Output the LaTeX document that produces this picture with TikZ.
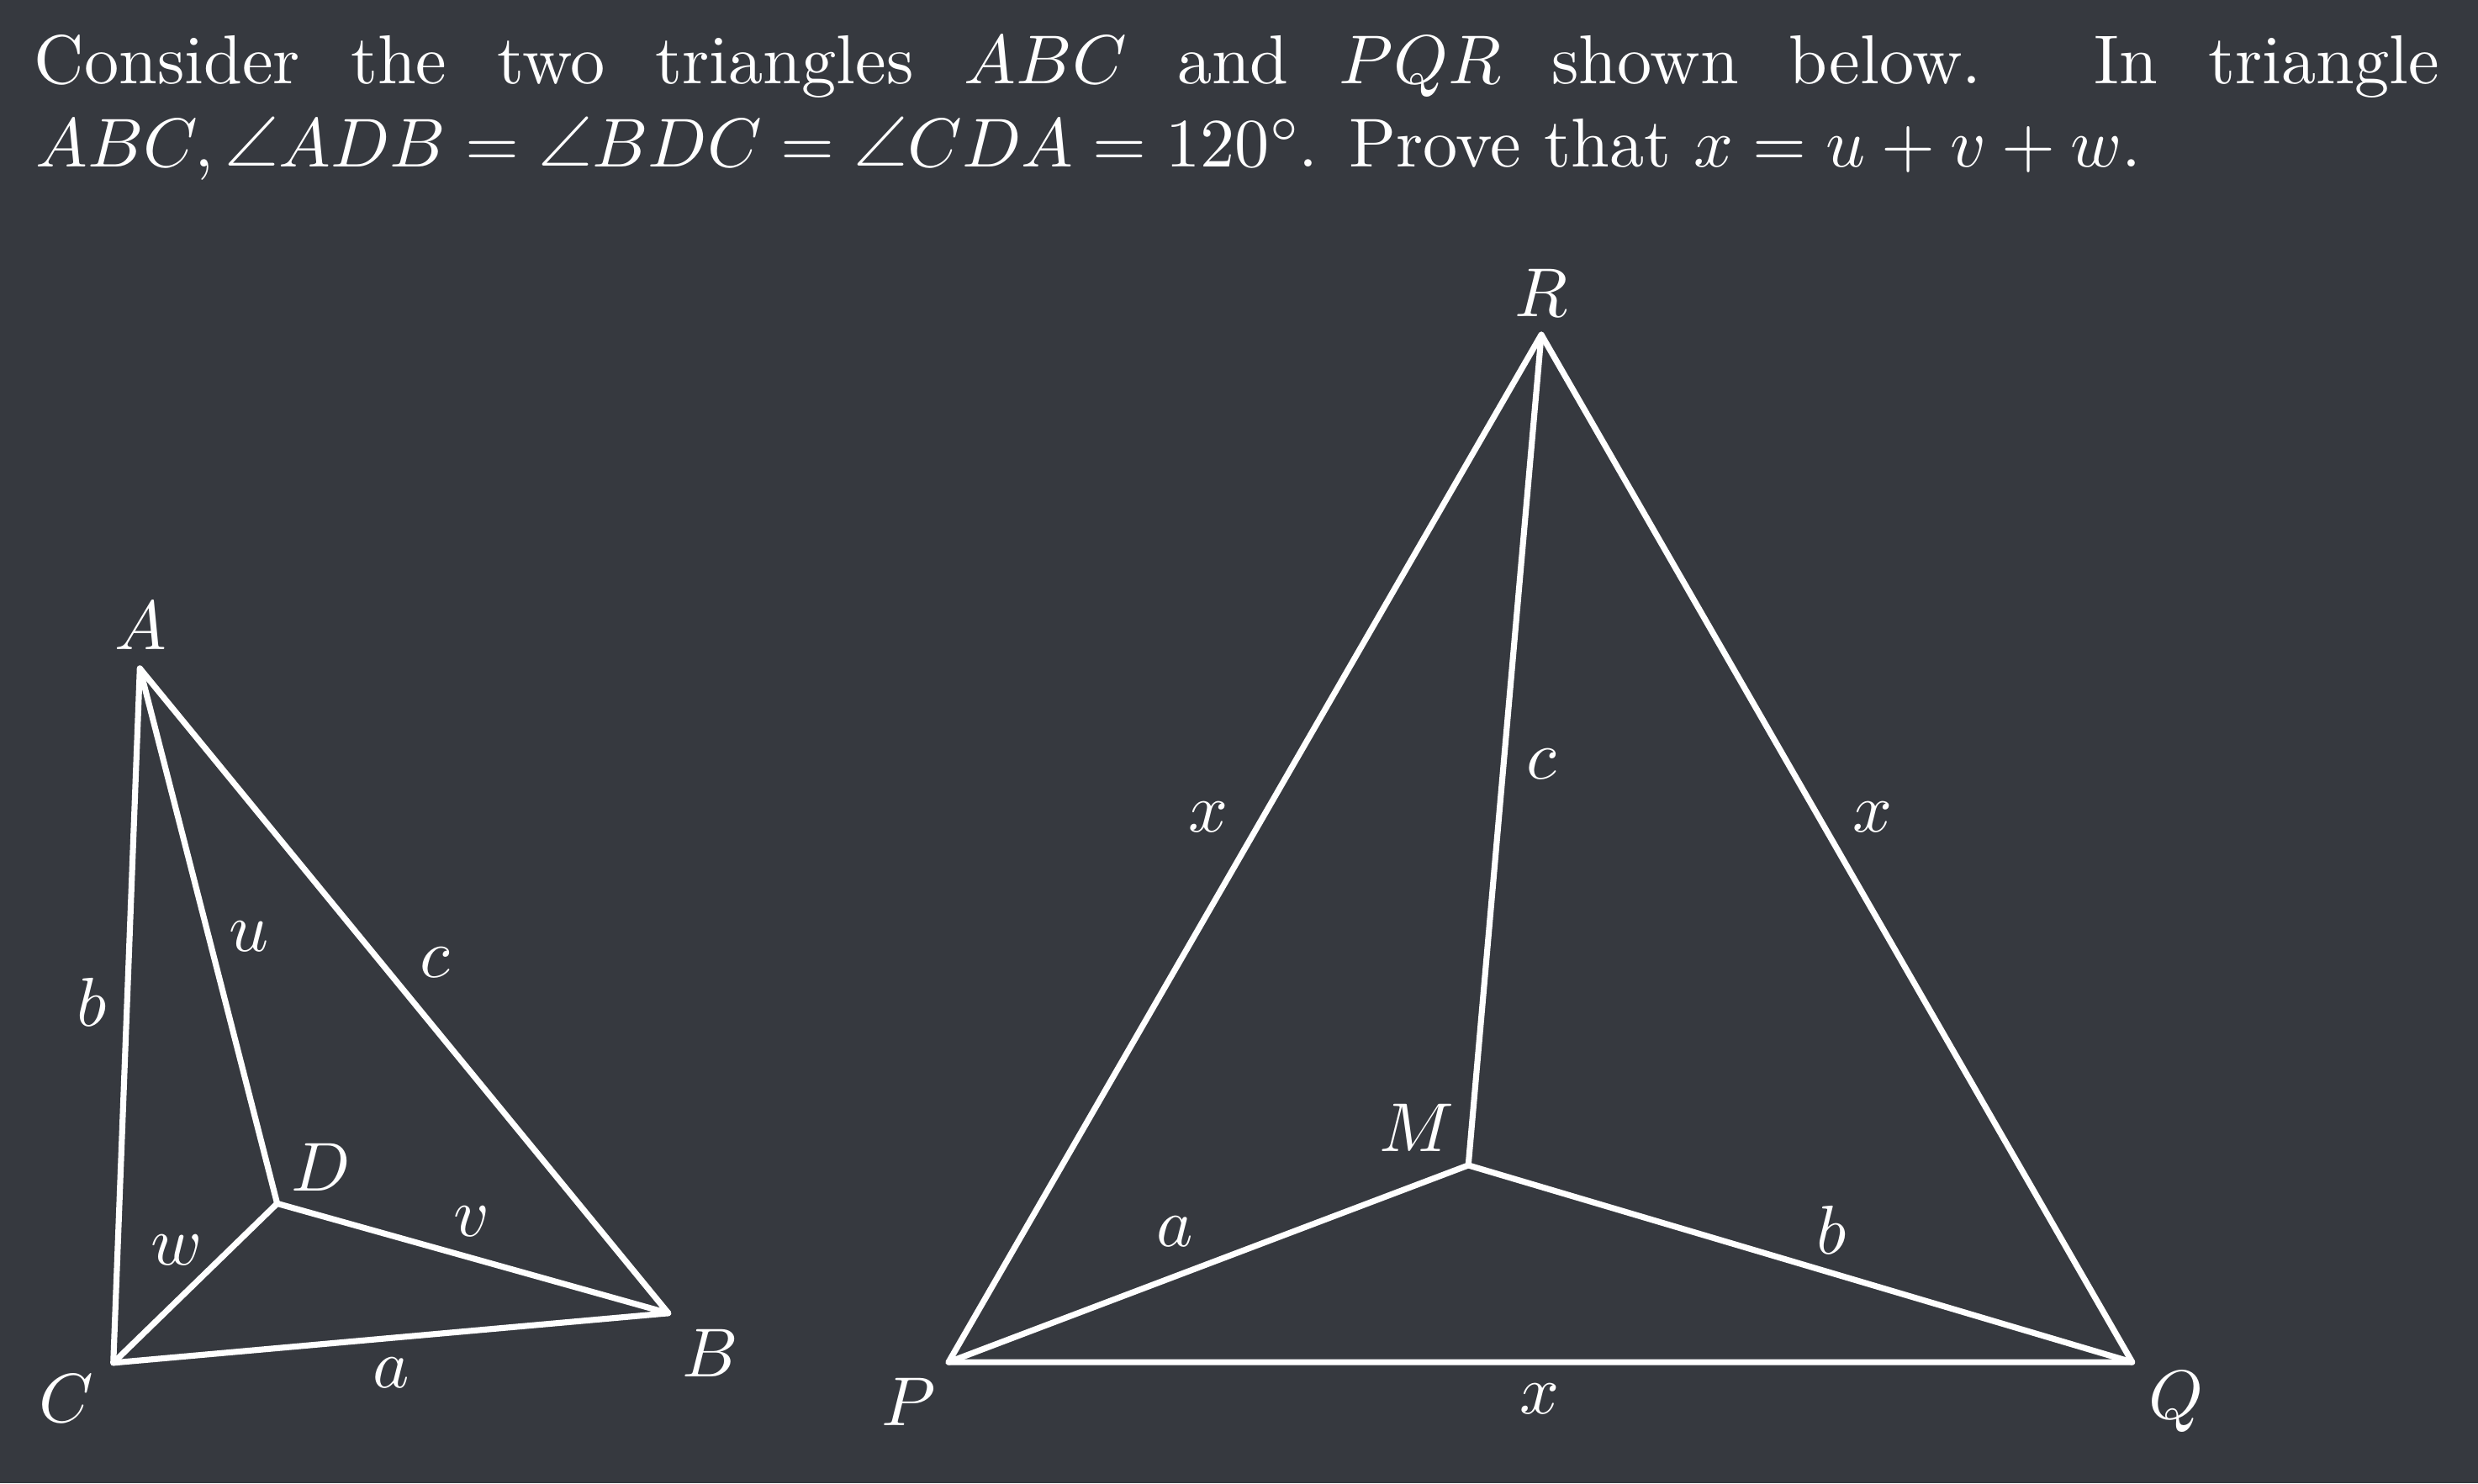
\documentclass[tikz,border=0pt]{standalone}
\usepackage{fontspec}
\setmainfont{lmroman10-regular.otf}[ItalicFont=lmroman10-italic.otf, BoldFont=lmroman10-bold.otf]
\newfontfamily\lmmathfont{latinmodern-math.otf}
\DeclareFontShape{OT1}{cmr}{m}{n}{<-25>cmr5 <25-35>cmr7 <35->cmr10}{}
\DeclareFontShape{OML}{cmm}{m}{it}{<-25>cmmi5 <25-35>cmmi7 <35->cmmi10}{}
\DeclareFontShape{OMS}{cmsy}{m}{n}{<-25>cmsy5 <25-35>cmsy7 <35->cmsy10}{}
\DeclareFontShape{OMX}{cmex}{m}{n}{<->cmex10}{}
\DeclareMathSizes{43.8}{43.8}{30.66}{21.9}
\newcommand\uangle{\mathord{\hbox{\lmmathfont ∠}}}
\definecolor{bg}{RGB}{54,57,63}
\begin{document}
\begin{tikzpicture}[x=1pt,y=-1pt,
  edge/.style={white, line width=3.8pt, line join=round, line cap=round},
  lbl/.style={text=white, inner sep=0pt, font=\fontsize{43.8}{53}\selectfont},
  txt/.style={text=white, inner sep=0pt, anchor=base west, font=\fontsize{43.8}{53}\selectfont}]
\fill[bg] (0,0) rectangle (1568,938.6);
\useasboundingbox (0,0) rectangle (1568,938.6);
% text
\node[txt] (l1) at (21.5,52.7) {\hbox to 1522pt{Consider the two triangles $ABC$ and $PQR$ shown below. In triangle}};
\node[txt] (l2) at (22.5,105.6) {$ABC, \uangle ADB = \uangle BDC = \uangle CDA = 120^\circ$. Prove that $x = u + v + w$.};
% triangle ABC
\coordinate (A) at (88.5,423);
\coordinate (B) at (422.9,831);
\coordinate (C) at (71.7,862.4);
\coordinate (D) at (175.4,761.6);
\draw[edge] (A) -- (B) -- (C) -- cycle;
\draw[edge] (A) -- (D);
\draw[edge] (B) -- (D);
\draw[edge] (C) -- (D);
\node[lbl] (lA) at (89,395.8) {$A$};
\node[lbl] (lB) at (449.5,856.2) {$B$};
\node[lbl] (lC) at (42,885) {$C$};
\node[lbl] (lD) at (203,738.9) {$D$};
\node[lbl] (lu) at (157.7,592.7) {$u$};
\node[lbl] (lc) at (275.2,609) {$c$};
\node[lbl] (lb) at (58,634) {$b$};
\node[lbl] (lw) at (111.6,791.2) {$w$};
\node[lbl] (lv) at (298.3,773.2) {$v$};
\node[lbl] (la) at (247.3,868.9) {$a$};
% triangle PQR
\coordinate (R) at (975.3,211.8);
\coordinate (P) at (600.2,862);
\coordinate (Q) at (1349.2,862);
\coordinate (M) at (929.1,737.4);
\draw[edge] (P) -- (Q) -- (R) -- cycle;
\draw[edge] (P) -- (M);
\draw[edge] (Q) -- (M);
\draw[edge] (R) -- (M);
\node[lbl] (lR) at (975.3,185.4) {$R$};
\node[lbl] (lx1) at (764.7,517.3) {$x$};
\node[lbl] (lc2) at (975.3,483.5) {$c$};
\node[lbl] (lx2) at (1184.8,517.3) {$x$};
\node[lbl] (lM) at (896.3,713.5) {$M$};
\node[lbl] (la2) at (743.3,779.6) {$a$};
\node[lbl] (lb2) at (1158.8,778.1) {$b$};
\node[lbl] (lP) at (574.8,887.4) {$P$};
\node[lbl] (lx3) at (974.2,885) {$x$};
\node[lbl] (lQ) at (1377,887) {$Q$};
\end{tikzpicture}
\end{document}
